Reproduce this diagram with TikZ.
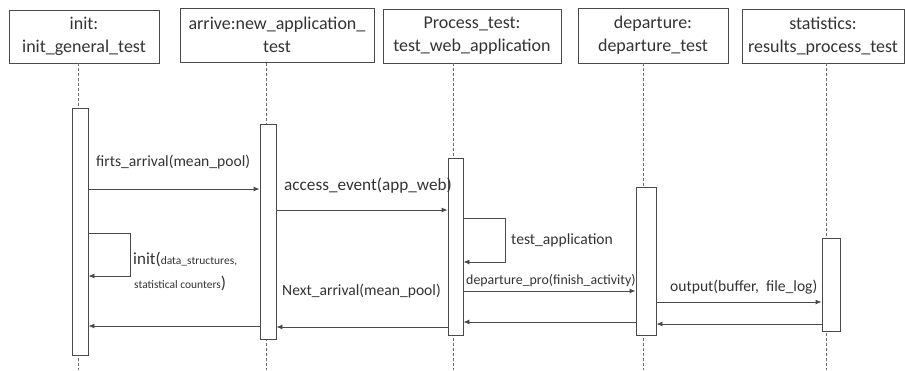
\documentclass[tikz,border=0pt]{standalone}
\usepackage{fontspec}
\setmainfont{Carlito}
\usetikzlibrary{arrows.meta}
\definecolor{ink}{HTML}{333333}
\definecolor{wire}{HTML}{4A4A4A}
\tikzset{
  header/.style={draw=wire, line width=0.9pt, align=center, inner sep=0pt,
                 font=\fontsize{18}{23}\selectfont, text=ink},
  lifeline/.style={draw=wire!80, dashed, dash pattern=on 3pt off 2pt, line width=0.7pt},
  bar/.style={draw=wire, line width=0.9pt, fill=white, inner sep=0pt},
  msg/.style={draw=wire, line width=0.9pt, -{Latex[length=6pt,width=5pt]}},
  lbl/.style={anchor=west, inner sep=0pt, text=ink, font=\fontsize{15.6}{18}\selectfont},
  small/.style={font=\fontsize{11.5}{13}\selectfont},
}
\begin{document}
\begin{tikzpicture}[x=1pt,y=-1pt]
\useasboundingbox (0,0) rectangle (905,370);

% participants
\node[header, minimum width=150, minimum height=53] (h1) at (84,36.5) {init:\\init\_general\_test};
\node[header, minimum width=194, minimum height=54] (h2) at (277,35) {arrive:new\_application\_\\test};
\node[header, minimum width=178, minimum height=54] (h3) at (472,36) {Process\_test:\\test\_web\_application};
\node[header, minimum width=150, minimum height=55] (h4) at (653,35.5) {departure:\\departure\_test};
\node[header, minimum width=162, minimum height=54] (h5) at (823,36) {statistics:\\results\_process\_test};

% lifelines
\foreach \i/\x in {1/78,2/266,3/453,4/643,5/826}{
  \coordinate (top\i) at (\x,63);
  \coordinate (bot\i) at (\x,370);
  \draw[lifeline] (top\i) -- (bot\i);
}

% activation bars
\node[bar, minimum width=16, minimum height=247] (b1) at (80,231.5) {};
\node[bar, minimum width=16, minimum height=215] (b2) at (268,231.5) {};
\node[bar, minimum width=15, minimum height=177] (b3) at (455.5,246.5) {};
\node[bar, minimum width=20, minimum height=148] (b4) at (646,261) {};
\node[bar, minimum width=18, minimum height=93]  (b5) at (831,284.5) {};

% calls
\draw[msg] (b1.east |- 0,189) -- (b2.west |- 0,189);
\node[lbl] (l1) at (96,162) {firts\_arrival(mean\_pool)};

\draw[msg] (b2.east |- 0,210) -- (b3.west |- 0,210);
\node[lbl, font=\fontsize{17.2}{20}\selectfont] (l2) at (284,186) {access\_event(app\_web)};

\coordinate (s1a) at (130,233);
\coordinate (s1b) at (130,276);
\draw[msg] (b1.east |- s1a) -- (s1a) -- (s1b) -- (b1.east |- s1b);
\node[lbl, font=\fontsize{17}{20}\selectfont] (l3) at (133,259) {init({\fontsize{11.5}{13}\selectfont data\_structures,}};
\node[lbl, font=\fontsize{17}{20}\selectfont] (l3b) at (134,283) {{\fontsize{11.5}{13}\selectfont statistical counters})};

\coordinate (s3a) at (505,218);
\coordinate (s3b) at (505,262);
\draw[msg] (b3.east |- s3a) -- (s3a) -- (s3b) -- (b3.east |- s3b);
\node[lbl] (l4) at (511,240) {test\_application};

\draw[msg] (b3.east |- 0,291) -- (b4.west |- 0,291);
\node[lbl, font=\fontsize{13.9}{16}\selectfont] (l5) at (466,281) {departure\_pro(finish\_activity)};

\draw[msg] (b4.east |- 0,302) -- (b5.west |- 0,302);
\node[lbl] (l6) at (670,287) {output(buffer,\ \ file\_log)};

% returns
\draw[msg] (b5.west |- 0,324) -- (b4.east |- 0,324);
\draw[msg] (b4.west |- 0,322) -- (b3.east |- 0,322);
\draw[msg] (b3.west |- 0,327) -- (b2.east |- 0,327);
\node[lbl] (l7) at (282,291) {Next\_arrival(mean\_pool)};
\draw[msg] (b2.west |- 0,326) -- (b1.east |- 0,326);
\end{tikzpicture}
\end{document}
